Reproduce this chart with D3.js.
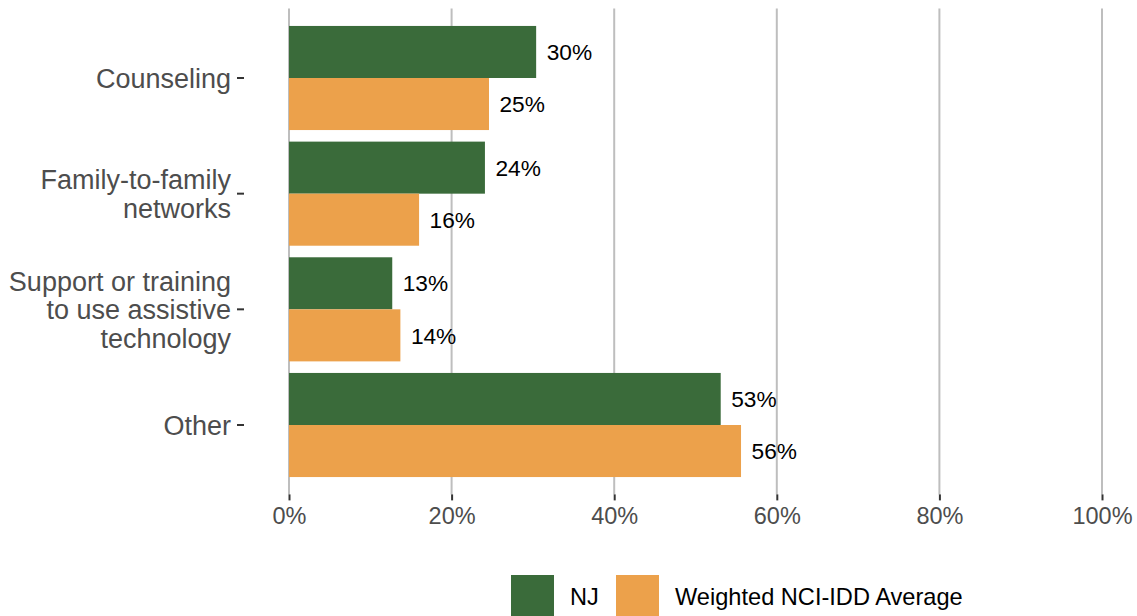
<!DOCTYPE html>
<html><head><meta charset="utf-8">
<script src="https://cdn.jsdelivr.net/npm/d3@7"></script>
<style>body{margin:0;background:#fff}svg{display:block}</style>
</head><body>
<script>
const categories = [["Counseling"],["Family-to-family","networks"],["Support or training","to use assistive","technology"],["Other"]];
const catKeys = ["Counseling","Family-to-family networks","Support or training to use assistive technology","Other"];
const seriesNames = ["NJ","Weighted NCI-IDD Average"];
const njValues = [30.4,24.1,12.7,53.1];
const avgValues = [24.6,16.0,13.7,55.6];
const njLabels = ["30%","24%","13%","53%"];
const avgLabels = ["25%","16%","14%","56%"];
const xTicks = [0,20,40,60,80,100];
const colors = ["#3a6b3a","#eca14b"];

const W=1137,H=616;
const FONT="Liberation Sans, Arial, sans-serif";
const svg=d3.select("body").append("svg").attr("width",W).attr("height",H);
const pL=289,pR=1102,pT=8.6,pB=494.4;
const x=d3.scaleLinear().domain([0,100]).range([pL,pR]);
const y=d3.scaleBand().domain(catKeys).range([pT,pB]).paddingInner(0.1).paddingOuter(0.15);
const sub=d3.scaleBand().domain(seriesNames).range([0,y.bandwidth()]);

// gridlines
svg.append("g").selectAll("line").data(xTicks).join("line")
  .attr("x1",d=>x(d)).attr("x2",d=>x(d)).attr("y1",pT).attr("y2",pB)
  .attr("stroke","#bebebe").attr("stroke-width",2);

const data=catKeys.map((k,i)=>({k,vals:[{s:seriesNames[0],v:njValues[i],l:njLabels[i]},{s:seriesNames[1],v:avgValues[i],l:avgLabels[i]}]}));
const g=svg.append("g").selectAll("g").data(data).join("g").attr("transform",d=>`translate(0,${y(d.k)})`);
g.selectAll("rect").data(d=>d.vals).join("rect")
  .attr("x",x(0)).attr("y",d=>sub(d.s)).attr("width",d=>x(d.v)-x(0)).attr("height",sub.bandwidth())
  .attr("fill",(d,i)=>colors[i]);
g.selectAll("text").data(d=>d.vals).join("text")
  .attr("x",d=>x(d.v)+10.5).attr("y",d=>sub(d.s)+sub.bandwidth()/2).attr("dy","0.36em")
  .attr("font-family",FONT).attr("font-size",22.7).attr("fill","#000")
  .text(d=>d.l);

// x axis
const xa=svg.append("g").attr("transform",`translate(0,${pB})`)
  .call(d3.axisBottom(x).tickValues(xTicks).tickFormat(d=>d+"%").tickSize(6).tickPadding(7));
xa.select(".domain").remove();
xa.selectAll("line").attr("stroke","#333").attr("stroke-width",2);
xa.selectAll("text").attr("font-family",FONT).attr("font-size",23.5).attr("fill","#4d4d4d");

// y axis labels
const yg=svg.append("g");
catKeys.forEach((k,i)=>{
  const cy=y(k)+y.bandwidth()/2;
  yg.append("line").attr("x1",237).attr("x2",244).attr("y1",cy).attr("y2",cy).attr("stroke","#333").attr("stroke-width",2);
  const lines=categories[i];
  const lh=28.5;
  const t=yg.append("text").attr("text-anchor","end")
    .attr("font-family",FONT).attr("font-size",27).attr("fill","#4d4d4d");
  lines.forEach((ln,j)=>{
    t.append("tspan").attr("x",231).attr("y",cy+(j-(lines.length-1)/2)*lh).attr("dy","0.37em").text(ln);
  });
});

// legend
const lg=svg.append("g");
const lx=[511,616];
seriesNames.forEach((s,i)=>{
  lg.append("rect").attr("x",lx[i]).attr("y",575).attr("width",43).attr("height",43).attr("fill",colors[i]);
  lg.append("text").attr("x",lx[i]+59).attr("y",597).attr("dy","0.36em")
    .attr("font-family",FONT).attr("font-size",23.6).attr("fill","#000").text(s);
});
</script>
</body></html>
